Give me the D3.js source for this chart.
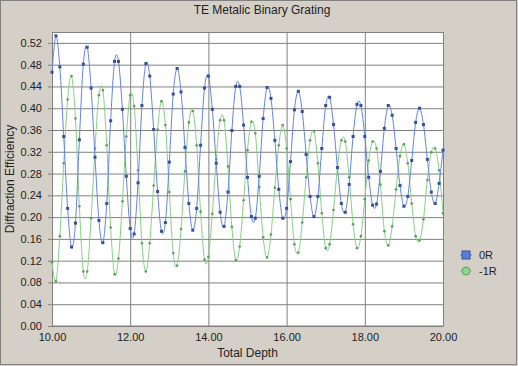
<!DOCTYPE html>
<html>
<head>
<meta charset="utf-8">
<script src="https://cdn.jsdelivr.net/npm/d3@7"></script>
<style>
  body { margin: 0; background: #d4d0c8; }
  svg { display: block; font-family: "Liberation Sans", Arial, sans-serif; }
</style>
</head>
<body>
<script>
//Chart values
var title = "TE Metalic Binary Grating";
var xLabelText = "Total Depth";
var yLabelText = "Diffraction Efficiency";
var seriesNames = ["0R", "-1R"];
var xTicks = [10, 12, 14, 16, 18, 20];
var yTicks = [0, 0.04, 0.08, 0.12, 0.16, 0.20, 0.24, 0.28, 0.32, 0.36, 0.40, 0.44, 0.48, 0.52];

//Total depth sampled every 0.1 from 10 to 20
var depth = d3.range(101).map(function(i){ return +(10 + i * 0.1).toFixed(1); });

var r0 = [
  0.466, 0.533, 0.476, 0.348, 0.216, 0.145, 0.189, 0.342, 0.481, 0.512,
  0.437, 0.310, 0.194, 0.153, 0.225, 0.377, 0.486, 0.486, 0.398, 0.275,
  0.179, 0.169, 0.263, 0.405, 0.482, 0.459, 0.361, 0.247, 0.174, 0.190,
  0.301, 0.426, 0.473, 0.430, 0.328, 0.225, 0.176, 0.216, 0.332, 0.437,
  0.459, 0.398, 0.299, 0.209, 0.183, 0.246, 0.359, 0.440, 0.440, 0.369,
  0.273, 0.201, 0.198, 0.275, 0.381, 0.438, 0.418, 0.341, 0.251, 0.198,
  0.216, 0.302, 0.397, 0.431, 0.394, 0.315, 0.238, 0.201, 0.238, 0.326,
  0.405, 0.420, 0.370, 0.291, 0.225, 0.209, 0.260, 0.348, 0.407, 0.405,
  0.348, 0.273, 0.222, 0.224, 0.284, 0.363, 0.405, 0.387, 0.326, 0.258,
  0.220, 0.238, 0.304, 0.374, 0.400, 0.370, 0.306, 0.246, 0.225, 0.262,
  0.323
];

var rm1 = [
  0.117, 0.082, 0.165, 0.299, 0.416, 0.459, 0.381, 0.220, 0.100, 0.100,
  0.198, 0.326, 0.424, 0.433, 0.332, 0.181, 0.095, 0.124, 0.229, 0.348,
  0.424, 0.404, 0.286, 0.152, 0.100, 0.152, 0.258, 0.361, 0.413, 0.369,
  0.246, 0.134, 0.111, 0.178, 0.284, 0.374, 0.395, 0.332, 0.210, 0.122,
  0.127, 0.206, 0.306, 0.378, 0.378, 0.293, 0.182, 0.121, 0.146, 0.231,
  0.323, 0.375, 0.354, 0.255, 0.163, 0.126, 0.168, 0.254, 0.332, 0.369,
  0.326, 0.233, 0.150, 0.135, 0.190, 0.273, 0.341, 0.358, 0.299, 0.207,
  0.143, 0.150, 0.213, 0.291, 0.341, 0.339, 0.273, 0.187, 0.143, 0.165,
  0.233, 0.304, 0.339, 0.326, 0.260, 0.174, 0.148, 0.183, 0.251, 0.312,
  0.334, 0.299, 0.225, 0.165, 0.157, 0.196, 0.268, 0.319, 0.326, 0.286,
  0.207
];

//Set margins and define dimensions
var W = 518, H = 366;
var margin = {top: 32, right: 75, bottom: 40, left: 52};
var width = W - margin.left - margin.right;
var height = H - margin.top - margin.bottom;

var svg = d3.select("body")
    .append("svg")
    .attr("width", W)
    .attr("height", H);

//Outer frame
svg.append("rect")
    .attr("x", 0.5).attr("y", 0.5)
    .attr("width", W - 2).attr("height", H - 2)
    .attr("fill", "#d4d0c8")
    .attr("stroke", "#808080");

//Title
svg.append("text")
    .attr("x", 262).attr("y", 14)
    .attr("text-anchor", "middle")
    .style("font-size", "12px")
    .style("fill", "#222")
    .text(title);

var g = svg.append("g")
    .attr("transform", "translate(" + margin.left + "," + margin.top + ")");

//Scales
var xscale = d3.scaleLinear().domain([10, 20]).range([0, width]);
var yscale = d3.scaleLinear().domain([0, 0.54]).range([height, 0]);

//Plot background
g.append("rect")
    .attr("width", width).attr("height", height)
    .attr("fill", "white");

//Horizontal grid with left tick labels
var yAxis = g.append("g")
    .attr("class", "y-axis")
    .call(d3.axisLeft(yscale)
      .tickValues(yTicks)
      .tickSize(-width - 4)
      .tickPadding(6)
      .tickFormat(d3.format(".2f")))
    .attr("transform", "translate(-4,0)");
yAxis.select(".domain").remove();
yAxis.selectAll("line").attr("stroke", "#808080").attr("x1", 0).attr("x2", width + 4);
yAxis.selectAll("text")
    .style("font-size", "11px")
    .style("fill", "#222")
    .style("font-family", "Liberation Sans, Arial, sans-serif");

//Vertical grid with bottom tick labels
var xAxis = g.append("g")
    .attr("class", "x-axis")
    .attr("transform", "translate(0," + height + ")")
    .call(d3.axisBottom(xscale)
      .tickValues(xTicks)
      .tickSize(-height)
      .tickPadding(7)
      .tickFormat(d3.format(".2f")));
xAxis.select(".domain").remove();
xAxis.selectAll("line").attr("stroke", "#808080");
xAxis.selectAll("text")
    .style("font-size", "11px")
    .style("fill", "#222")
    .style("font-family", "Liberation Sans, Arial, sans-serif");

//Plot border
g.append("rect")
    .attr("x", 0.5).attr("y", 0.5)
    .attr("width", width).attr("height", height - 0.5)
    .attr("fill", "none")
    .attr("stroke", "#808080");

//Axis titles
svg.append("text")
    .attr("x", margin.left + width / 2).attr("y", H - 9)
    .attr("text-anchor", "middle")
    .style("font-size", "12px")
    .style("fill", "#222")
    .text(xLabelText);

svg.append("text")
    .attr("transform", "translate(14," + (margin.top + height / 2) + ") rotate(-90)")
    .attr("text-anchor", "middle")
    .style("font-size", "12px")
    .style("fill", "#222")
    .text(yLabelText);

//Series
var series = [
  {name: seriesNames[0], values: r0, line: "#6384dc", mark: "#34509c", shape: "square"},
  {name: seriesNames[1], values: rm1, line: "#86d086", mark: "#619a61", shape: "circle"}
];

var line = d3.line()
    .x(function(d) { return xscale(d.x); })
    .y(function(d) { return yscale(d.y); })
    .curve(d3.curveCatmullRom.alpha(0));

var plot = g.append("g");

series.slice().reverse().forEach(function(s){
  var pts = depth.map(function(x, i){ return {x: x, y: s.values[i]}; });
  plot.append("path")
      .datum(pts)
      .attr("fill", "none")
      .attr("stroke", s.line)
      .attr("stroke-width", 1)
      .attr("d", line);
  if (s.shape === "square") {
    plot.selectAll(null)
        .data(pts).enter()
        .append("rect")
        .attr("x", function(d){ return xscale(d.x) - 1.5; })
        .attr("y", function(d){ return yscale(d.y) - 1.5; })
        .attr("width", 3).attr("height", 3)
        .attr("fill", s.mark);
  } else {
    plot.selectAll(null)
        .data(pts).enter()
        .append("circle")
        .attr("cx", function(d){ return xscale(d.x); })
        .attr("cy", function(d){ return yscale(d.y); })
        .attr("r", 1.3)
        .attr("fill", s.mark);
  }
});

//Legend
var legend = svg.append("g").attr("transform", "translate(460,255)");
series.forEach(function(s, i){
  var row = legend.append("g").attr("transform", "translate(0," + (i * 16) + ")");
  row.append("line")
      .attr("x1", 0).attr("x2", 12)
      .attr("stroke", s.line).attr("stroke-width", 1);
  if (s.shape === "square") {
    row.append("rect")
        .attr("x", 2).attr("y", -4).attr("width", 8).attr("height", 8)
        .attr("fill", "#5a7ed6").attr("stroke", "#34509c");
  } else {
    row.append("circle")
        .attr("cx", 6).attr("r", 4)
        .attr("fill", "#8fd48f").attr("stroke", "#619a61");
  }
  row.append("text")
      .attr("x", 19).attr("y", 4)
      .style("font-size", "11px")
      .style("fill", "#222")
      .text(s.name);
});
</script>
</body>
</html>
